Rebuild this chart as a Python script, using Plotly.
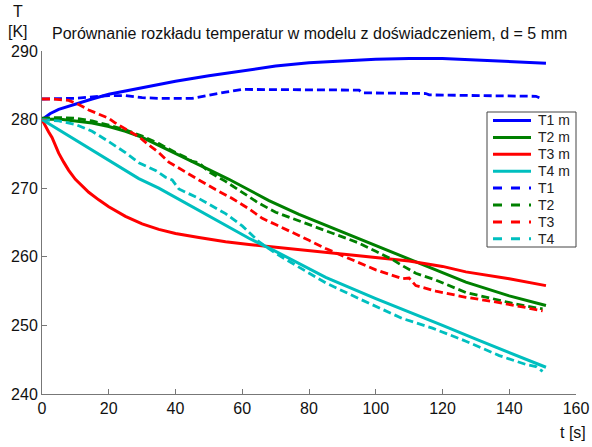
import plotly.graph_objects as go

# Time [s] and temperature [K] series: model (m) and experiment
t_T1m = [0, 2.5, 5, 10, 15, 20, 30, 40, 50, 60, 70, 80, 90, 100, 110, 120, 130, 140, 151]
T1m = [280, 280.9, 281.5, 282.3, 283.0, 283.7, 284.7, 285.6, 286.4, 287.1, 287.8, 288.3, 288.6,
       288.8, 288.9, 288.9, 288.7, 288.5, 288.2]

t_T2m = [0, 5, 10, 15, 20, 25, 30, 35, 41, 45, 50, 56, 62, 68, 77, 90, 100, 110, 120, 127, 140, 151]
T2m = [280, 280.1, 279.8, 279.5, 279.0, 278.3, 277.4, 276.2, 274.8, 273.9, 272.7, 271.3, 269.8,
       268.2, 266.2, 263.6, 261.6, 259.6, 257.6, 256.3, 254.3, 252.9]

t_T3m = [0, 1, 2, 3, 4, 5, 6.5, 8, 10, 12, 14, 17, 20, 25, 30, 35, 40, 47, 55, 62, 70, 80, 90,
         100, 110, 120, 127, 140, 151]
T3m = [280, 279.0, 278.2, 277.4, 276.2, 275.1, 273.8, 272.6, 271.3, 270.3, 269.4, 268.3, 267.3,
       265.9, 264.8, 264.0, 263.4, 262.8, 262.2, 261.8, 261.4, 260.9, 260.4, 260.0, 259.4, 258.6,
       257.8, 256.8, 255.8]

t_T4m = [0, 5, 10, 20, 29, 35, 42, 52, 62, 70, 85, 100, 110, 120, 130, 140, 151]
T4m = [280, 278.5, 277.1, 274.0, 271.4, 270.0, 268.1, 265.5, 262.7, 260.8, 257.0, 253.9, 252.0,
       250.0, 248.0, 246.0, 243.9]

t_T1 = [0, 10, 20, 25, 30, 35, 45, 50, 55, 60, 70, 80, 95, 96, 115, 116, 130, 131, 148, 150]
T1 = [283.0, 283.1, 283.5, 283.5, 283.2, 283.1, 283.1, 283.6, 284.0, 284.4, 284.4, 284.4, 284.3,
      283.9, 283.8, 283.6, 283.6, 283.5, 283.4, 283.0]

t_T2 = [0, 5, 10, 15, 20, 25, 30, 35, 40, 43, 45, 47, 50, 55, 60, 65, 70, 75, 80, 85, 90, 95, 100,
        105, 108, 110, 112, 118, 127, 135, 142, 150]
T2 = [280.2, 280.3, 280.2, 279.8, 279.2, 278.5, 277.6, 276.5, 275.2, 274.5, 273.9, 273.7, 272.4,
      271.0, 269.4, 267.8, 266.5, 265.6, 264.8, 263.8, 263.0, 262.0, 260.8, 259.6, 258.7, 258.2,
      257.6, 256.6, 254.8, 253.9, 253.1, 252.4]

t_T3 = [0, 3, 8, 11, 14, 17, 20, 22, 26, 29, 32, 35, 38, 42, 47, 52, 57, 62, 66, 70, 75, 80, 85,
        90, 95, 100, 105, 108, 110, 112, 118, 127, 135, 140, 145, 150]
T3 = [283.0, 283.0, 282.8, 282.2, 281.4, 280.8, 280.2, 279.5, 278.4, 277.5, 276.3, 275.2, 273.8,
      272.7, 271.2, 269.8, 268.5, 267.0, 265.6, 264.7, 263.6, 262.4, 261.2, 260.2, 259.2, 258.1,
      257.3, 256.8, 256.9, 255.8, 255.0, 254.1, 253.5, 253.1, 252.6, 252.1]

t_T4 = [0, 5, 10, 15, 19, 25, 29, 34, 37, 39, 41, 47, 55, 60, 65, 70, 78, 85, 95, 100, 108, 117,
        127, 137, 145, 148, 150]
T4 = [280, 279.8, 279.3, 278.3, 277.1, 275.2, 273.7, 272.6, 271.6, 271.2, 269.9, 268.5, 266.3,
      264.5, 262.2, 260.5, 258.2, 256.2, 253.9, 252.8, 251.0, 249.6, 247.7, 245.6, 244.3, 244.0,
      243.3]

names = ["T1 m", "T2 m", "T3 m", "T4 m", "T1", "T2", "T3", "T4"]
times = [t_T1m, t_T2m, t_T3m, t_T4m, t_T1, t_T2, t_T3, t_T4]
temps = [T1m, T2m, T3m, T4m, T1, T2, T3, T4]
colors = ["#0000FF", "#008000", "#FF0000", "#00BFBF"] * 2
dashes = ["solid"] * 4 + ["8px,4px"] * 4

x_ticks = [0, 20, 40, 60, 80, 100, 120, 140, 160]
y_ticks = [240, 250, 260, 270, 280, 290]

FONT = "Liberation Sans, Arial, sans-serif"
W, H = 592, 447
ML, MR, MT, MB = 42, 16, 51, 53
PW, PH = W - ML - MR, H - MT - MB


def px(x):
    return (x - ML) / PW


def py(y):
    return (H - MB - y) / PH


fig = go.Figure()
for n, tx, ty, c, d in zip(names, times, temps, colors, dashes):
    fig.add_trace(go.Scatter(x=tx, y=ty, name=n, mode="lines",
                             line=dict(color=c, width=3 if d == "solid" else 2.8, dash=d),
                             showlegend=False))

# Legend box drawn by hand
shapes = [dict(type="rect", xref="paper", yref="paper",
               x0=px(487), x1=px(576), y0=py(247), y1=py(112),
               line=dict(color="#444444", width=1), fillcolor="white", layer="above")]
annotations = []
for i, (n, c, d) in enumerate(zip(names, colors, dashes)):
    yc = 120.5 + 16.9 * i
    shapes.append(dict(type="line", xref="paper", yref="paper",
                       x0=px(493), x1=px(531), y0=py(yc), y1=py(yc),
                       line=dict(color=c, width=3, dash="solid" if d == "solid" else "dash"),
                       layer="above"))
    annotations.append(dict(xref="paper", yref="paper", x=px(536), y=py(yc), text=n,
                            showarrow=False, xanchor="left", yanchor="middle",
                            font=dict(family=FONT, size=14, color="#222222")))

annotations += [
    dict(xref="paper", yref="paper", x=px(309), y=py(33),
         text="Porównanie rozkładu temperatur w modelu z doświadczeniem, d = 5 mm",
         showarrow=False, xanchor="center", yanchor="middle",
         font=dict(family=FONT, size=16, color="#111111")),
    dict(xref="paper", yref="paper", x=px(18), y=py(12), text="T", showarrow=False,
         xanchor="center", yanchor="middle", font=dict(family=FONT, size=16, color="#111111")),
    dict(xref="paper", yref="paper", x=px(18), y=py(31), text="[K]", showarrow=False,
         xanchor="center", yanchor="middle", font=dict(family=FONT, size=16, color="#111111")),
    dict(xref="paper", yref="paper", x=px(573), y=py(432), text="t [s]", showarrow=False,
         xanchor="center", yanchor="middle", font=dict(family=FONT, size=16, color="#111111")),
]

fig.update_layout(
    template="none",
    width=W, height=H,
    margin=dict(l=ML, r=MR, t=MT, b=MB, autoexpand=False),
    paper_bgcolor="white", plot_bgcolor="white",
    shapes=shapes, annotations=annotations,
    showlegend=False,
    font=dict(family=FONT, size=16, color="#111111"),
)
axis_style = dict(ticks="inside", ticklen=5, tickcolor="#777777", showline=True,
                  linecolor="#777777", linewidth=1, showgrid=False, zeroline=False,
                  mirror=False, automargin=False,
                  tickfont=dict(family=FONT, size=16, color="#111111"))
fig.update_xaxes(range=[0, 160], tickvals=x_ticks, **axis_style)
fig.update_yaxes(range=[240, 290], tickvals=y_ticks, **axis_style)

fig.write_html("out.html")
